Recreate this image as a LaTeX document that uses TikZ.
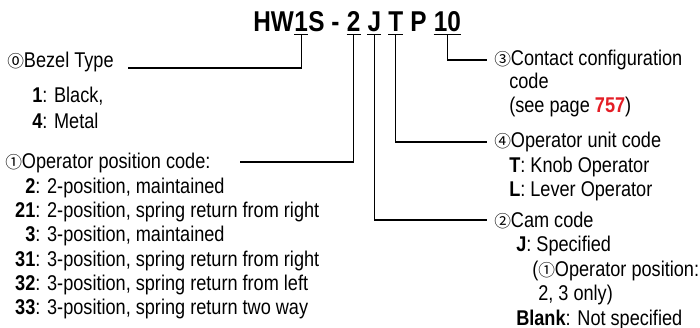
\documentclass[tikz,border=0pt]{standalone}
\usepackage{fontspec}
\setmainfont{Liberation Sans}[FakeStretch=0.85]
\newfontfamily\circfont{Noto Sans CJK JP}
\usepackage{xcolor}
\usetikzlibrary{positioning}
\definecolor{pagered}{RGB}{228,30,38}
\newcommand{\cnum}[1]{{\circfont\fontsize{12.5}{12.5}\selectfont #1}}
\newcommand{\posnum}[1]{\makebox[15.1pt][r]{\textbf{#1}}}

\begin{document}
\begin{tikzpicture}[
  x=0.75pt, y=-0.75pt,
  hdr/.style={font=\fontsize{21.5}{21.5}\selectfont\bfseries, inner sep=0pt, anchor=base west},
  txt/.style={font=\fontsize{16}{16}\selectfont, inner sep=0pt, anchor=base west},
  lead/.style={line width=0.9pt},
  uline/.style={line width=1.1pt}
]
\path[use as bounding box, fill=white] (0,0) rectangle (700,328);

% model code
\node[hdr] (hw) at (253,32) {HW};
\node[hdr] (bz1) at (hw.base east) {1};
\node[hdr] (s) at (bz1.base east) {S -};
\node[hdr, xshift=5pt] (op2) at (s.base east) {2};
\node[hdr, xshift=5pt] (camj) at (op2.base east) {J};
\node[hdr, xshift=5pt] (unitt) at (camj.base east) {T};
\node[hdr, xshift=5pt] (p) at (unitt.base east) {P};
\node[hdr, xshift=5pt] (cc10) at (p.base east) {10};

\foreach \n in {bz1, op2, camj, unitt, cc10}
  \draw[uline] ([yshift=-1.6pt]\n.south west) -- ([yshift=-1.6pt]\n.south east);

% left side
\node[txt] (bezel) at (7,68) {\cnum{⓪}Bezel Type};
\node[txt] (black) at (32,103) {\textbf{1}: Black,};
\node[txt] (metal) at (32,128) {\textbf{4}: Metal};

\node[txt] (opos) at (5,168) {\cnum{①}Operator position code:};
\node[txt] (p2)  at (15,193) {\posnum{2}: 2-position, maintained};
\node[txt] (p21) at (15,217) {\posnum{21}: 2-position, spring return from right};
\node[txt] (p3)  at (15,241.5) {\posnum{3}: 3-position, maintained};
\node[txt] (p31) at (15,266) {\posnum{31}: 3-position, spring return from right};
\node[txt] (p32) at (15,290) {\posnum{32}: 3-position, spring return from left};
\node[txt] (p33) at (15,314.5) {\posnum{33}: 3-position, spring return two way};

% right side
\node[txt] (cc) at (494,65) {\cnum{③}Contact configuration};
\node[txt] (cccode) at (509,89) {code};
\node[txt] (ccpage) at (509,113) {(see page \textbf{\color{pagered}757})};

\node[txt] (unit) at (494,147) {\cnum{④}Operator unit code};
\node[txt] (unitT) at (509,172) {\textbf{T}: Knob Operator};
\node[txt] (unitL) at (509,196) {\textbf{L}: Lever Operator};

\node[txt] (cam) at (494,227) {\cnum{②}Cam code};
\node[txt] (camJ) at (516,251) {\textbf{J}: Specified};
\node[txt] (camnote) at (532,276) {(\cnum{①}Operator position:};
\node[txt] (camnote2) at (538,300) {2, 3 only)};
\node[txt] (camblank) at (516,325) {\textbf{Blank}: Not specified};

% leaders
\coordinate (bzend) at (128,68);
\coordinate (opend) at (240,162);
\coordinate (ccin) at (487,60);
\coordinate (unitin) at (487,142);
\coordinate (camin) at (487,220);

\draw[lead] ([yshift=-1.6pt]bz1.south) |- (bzend);
\draw[lead] ([yshift=-1.6pt]op2.south) |- (opend);
\draw[lead] ([yshift=-1.6pt]camj.south) |- (camin);
\draw[lead] ([yshift=-1.6pt]unitt.south) |- (unitin);
\draw[lead] ([yshift=-1.6pt]cc10.south) |- (ccin);

\end{tikzpicture}
\end{document}
